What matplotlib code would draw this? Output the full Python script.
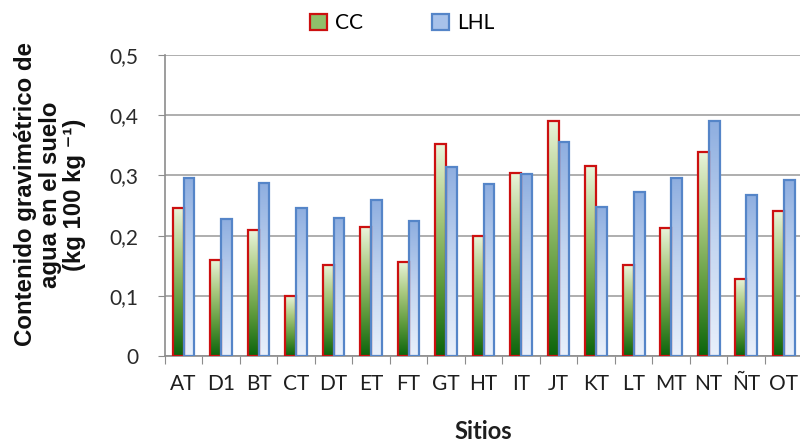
import matplotlib
matplotlib.use("Agg")
import matplotlib.pyplot as plt
import numpy as np
from matplotlib.colors import LinearSegmentedColormap
from matplotlib.patches import Patch

# contenido gravimétrico de agua por sitio
SITIOS = ["AT", "D1", "BT", "CT", "DT", "ET", "FT", "GT", "HT", "IT",
          "JT", "KT", "LT", "MT", "NT", "ÑT", "OT"]
CC = [0.246, 0.160, 0.209, 0.100, 0.152, 0.214, 0.157, 0.352, 0.200, 0.304,
      0.391, 0.315, 0.151, 0.213, 0.339, 0.128, 0.241]
LHL = [0.296, 0.228, 0.288, 0.246, 0.230, 0.260, 0.225, 0.314, 0.285, 0.303,
       0.355, 0.247, 0.272, 0.296, 0.390, 0.268, 0.292]
YTICKS = [0, 0.1, 0.2, 0.3, 0.4, 0.5]
YLABELS = ["0", "0,1", "0,2", "0,3", "0,4", "0,5"]

TICKFONT = "Lato"
GRID = "#a8a8a8"
AXC = "#8c8c8c"
# bottom -> top
cc_cmap = LinearSegmentedColormap.from_list("cc", ["#0b640c", "#5d9a3c", "#a9c97f", "#eaf5dc"])
lhl_cmap = LinearSegmentedColormap.from_list("lhl", ["#e9f0fb", "#c3d5f0", "#8eaee0"])
grad = np.linspace(0, 1, 256).reshape(-1, 1)

fig = plt.figure(figsize=(8, 4.43), dpi=100)
ax = fig.add_axes([0.206, 0.196, 0.797, 0.680])

x = np.arange(len(SITIOS))
w = 0.29
b1 = ax.bar(x - w / 2, CC, w, facecolor="none", edgecolor="#cc1010", lw=1.6, zorder=3)
b2 = ax.bar(x + w / 2, LHL, w, facecolor="none", edgecolor="#5585c8", lw=1.6, zorder=3)

# vertical gradient fills clipped to each bar
for bars, cmap in ((b1, cc_cmap), (b2, lhl_cmap)):
    for p in bars:
        x0, y0 = p.get_x(), p.get_y()
        im = ax.imshow(grad, extent=[x0, x0 + p.get_width(), y0, y0 + p.get_height()],
                       origin="lower", aspect="auto", cmap=cmap, zorder=2)
        im.set_clip_path(p)

ax.set_xlim(-0.5, len(SITIOS) - 0.5)
ax.set_ylim(0, 0.5)

for s in ("top", "right"):
    ax.spines[s].set_visible(False)
for s in ("left", "bottom"):
    ax.spines[s].set_color(AXC)
    ax.spines[s].set_linewidth(1.2)

ax.set_yticks(YTICKS)
ax.set_yticklabels(YLABELS, fontsize=15, family=TICKFONT, color="#2a2a2a")
ax.yaxis.grid(True, color=GRID, lw=1.3, zorder=0)
ax.set_axisbelow(True)
ax.tick_params(axis="y", length=5, color=AXC, pad=14)

# ticks between categories, labels centred
ax.set_xticks(np.arange(-0.5, len(SITIOS), 1.0))
ax.set_xticklabels([])
ax.set_xticks(x, minor=True)
ax.set_xticklabels(SITIOS, minor=True, fontsize=15, family=TICKFONT, color="#1e1e1e")
ax.tick_params(axis="x", which="major", length=6, color=AXC)
ax.tick_params(axis="x", which="minor", length=0, pad=13)

fig.text(0.063, 0.561, "Contenido gravimétrico de\nagua en el suelo\n(kg 100 kg \u207b\u00b9)",
         rotation=90, ha="center", va="center", fontsize=17.3, fontweight="bold",
         family=["Liberation Sans", "DejaVu Sans"], linespacing=1.08, color="#111111")
fig.text(0.604, 0.025, "Sitios", ha="center", va="center", fontsize=17,
         fontweight="bold", family=TICKFONT, color="#1e1e1e")

handles = [Patch(facecolor="#8fbf6a", edgecolor="#cc1010", lw=1.6, label="CC"),
           Patch(facecolor="#a8c2ea", edgecolor="#5585c8", lw=1.6, label="LHL")]
fig.legend(handles=handles, loc="center", bbox_to_anchor=(0.503, 0.948), ncol=2,
           frameon=False, prop={"family": TICKFONT, "size": 15},
           handlelength=0.8, handleheight=0.8, handletextpad=0.4, columnspacing=3.3)

fig.savefig("out.png", dpi=100, facecolor="white")
